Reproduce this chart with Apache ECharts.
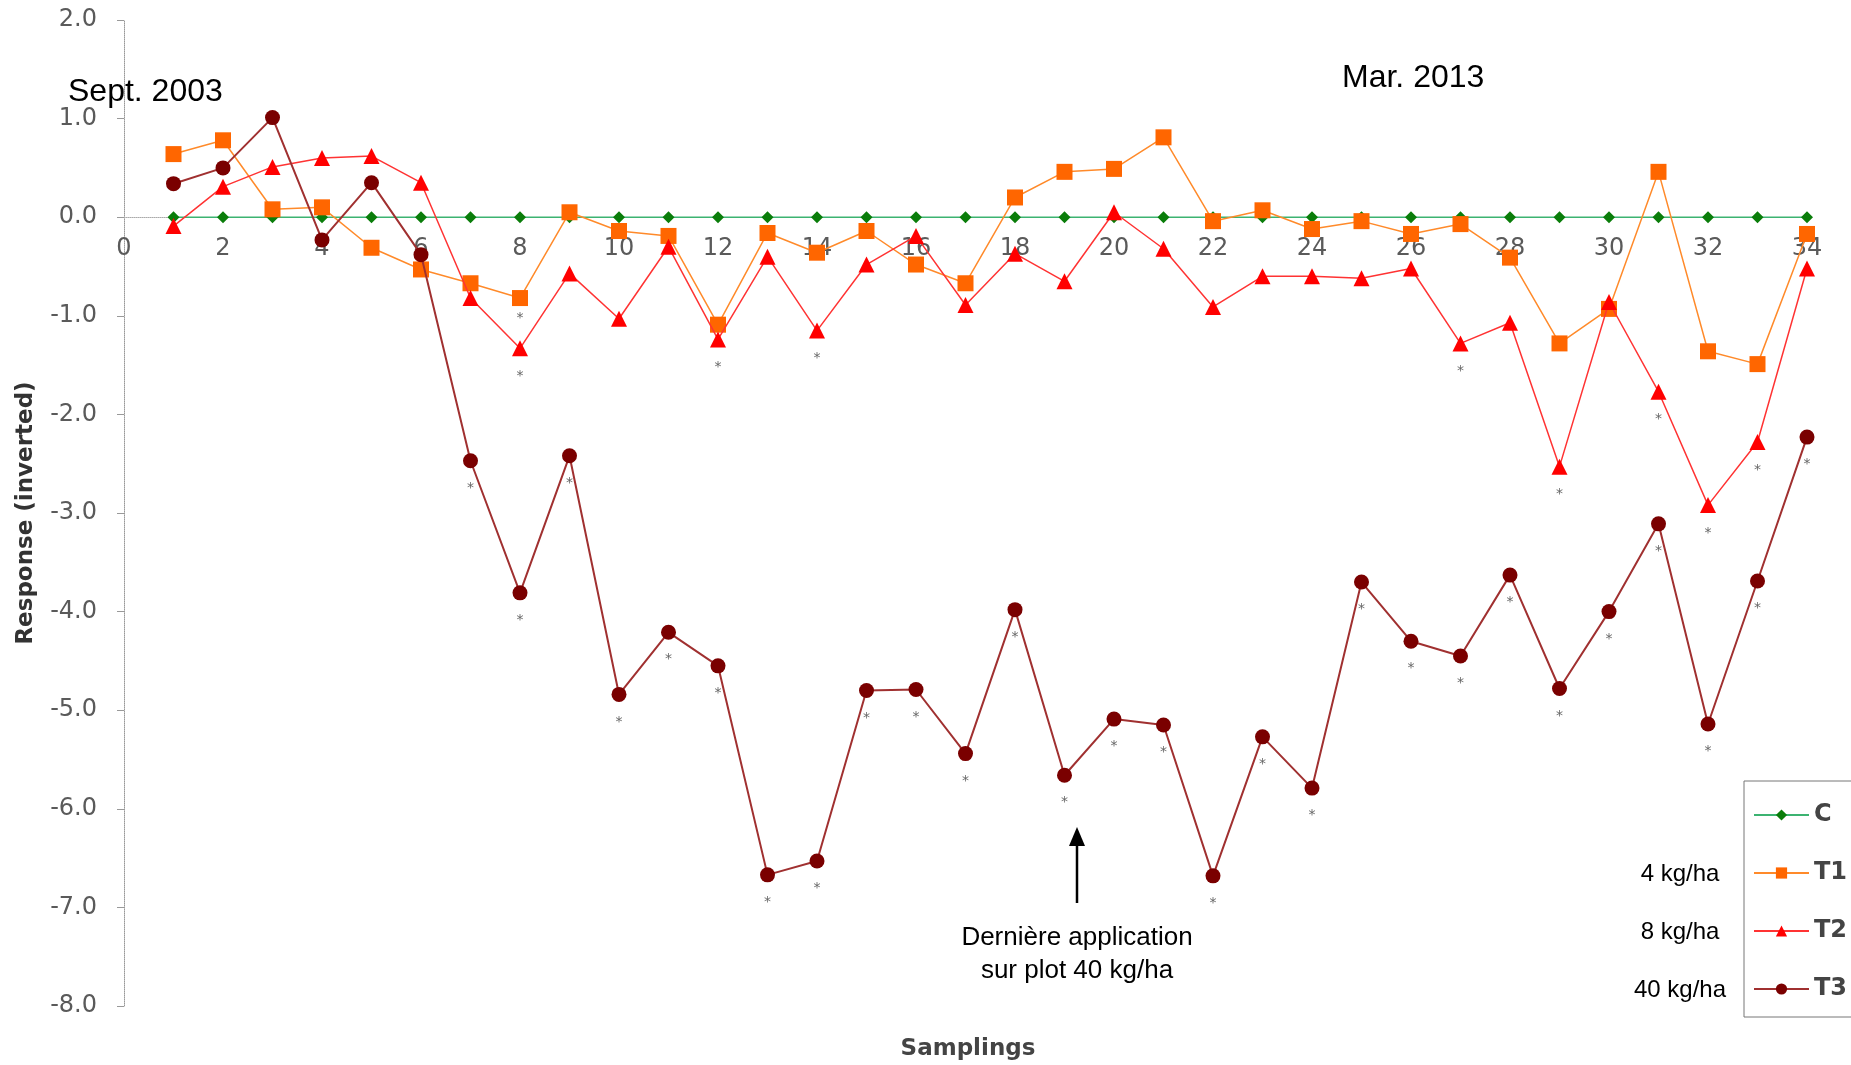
<!DOCTYPE html>
<html>
<head>
<meta charset="utf-8">
<style>
  html, body { margin: 0; padding: 0; background: #fff; }
  #chart { width: 1851px; height: 1065px; }
</style>
<script src="https://cdn.jsdelivr.net/npm/echarts@6/dist/echarts.min.js"></script>
</head>
<body>
<div id="chart"></div>
<script>
// ---- data ----
const samplings = [1,2,3,4,5,6,7,8,9,10,11,12,13,14,15,16,17,18,19,20,21,22,23,24,25,26,27,28,29,30,31,32,33,34];
const valuesC  = [0,0,0,0,0,0,0,0,0,0,0,0,0,0,0,0,0,0,0,0,0,0,0,0,0,0,0,0,0,0,0,0,0,0];
const valuesT1 = [0.64,0.78,0.08,0.10,-0.31,-0.53,-0.67,-0.82,0.05,-0.14,-0.19,-1.09,-0.16,-0.36,-0.14,-0.48,-0.67,0.20,0.46,0.49,0.81,-0.04,0.07,-0.12,-0.04,-0.17,-0.07,-0.41,-1.28,-0.93,0.46,-1.36,-1.49,-0.17];
const valuesT2 = [-0.09,0.31,0.51,0.60,0.62,0.35,-0.82,-1.33,-0.57,-1.03,-0.30,-1.24,-0.40,-1.15,-0.48,-0.19,-0.89,-0.37,-0.65,0.05,-0.32,-0.91,-0.60,-0.60,-0.62,-0.52,-1.28,-1.07,-2.53,-0.86,-1.77,-2.92,-2.28,-0.52];
const valuesT3 = [0.34,0.50,1.01,-0.23,0.35,-0.38,-2.47,-3.81,-2.42,-4.84,-4.21,-4.55,-6.67,-6.53,-4.80,-4.79,-5.44,-3.98,-5.66,-5.09,-5.15,-6.68,-5.27,-5.79,-3.70,-4.30,-4.45,-3.63,-4.78,-4.00,-3.11,-5.14,-3.69,-2.23];
// samplings marked significant (*)
const sigT1 = [8,12];
const sigT2 = [8,12,14,27,29,31,32,33];
const sigT3 = [7,8,9,10,11,12,13,14,15,16,17,18,19,20,21,22,23,24,25,26,27,28,29,30,31,32,33,34];
const seriesNames = ['C','T1','T2','T3'];
const doseLabels = ['4 kg/ha','8 kg/ha','40 kg/ha'];
const yTicks = { min: -8, max: 2, interval: 1 };
const xTicks = { min: 0, max: 34, interval: 2 };

// ---- layout ----
const GRID = { left: 124, right: 44, top: 20, bottom: 59 };
const plotH = 1065 - GRID.top - GRID.bottom;
// x axis sits on the y = 0 line (offset from the bottom edge of the grid)
const xAxisOffset = -plotH * (0 - yTicks.min) / (yTicks.max - yTicks.min);

// ---- chart ----
const chart = echarts.init(document.getElementById('chart'), null, { renderer: 'canvas' });

function build(vals, sig) {
  return samplings.map((x, i) => ({
    value: [x, vals[i]],
    label: { show: sig.indexOf(x) >= 0 }
  }));
}
const starLabel = (dist) => ({
  show: false, position: 'bottom', distance: dist, formatter: '*',
  color: '#666', fontSize: 14, fontFamily: 'DejaVu Sans'
});

const tickFont = { fontFamily: 'DejaVu Sans', fontSize: 24, color: '#5a5a5a' };

chart.setOption({
  animation: false,
  backgroundColor: '#ffffff',
  grid: Object.assign({ containLabel: false }, GRID),
  xAxis: {
    type: 'value', min: xTicks.min, max: xTicks.max, interval: xTicks.interval,
    position: 'bottom', offset: xAxisOffset,
    axisLine: { show: true, onZero: false, lineStyle: { color: '#aaaaaa', type: 'dotted', width: 1 } },
    axisTick: { show: false },
    axisLabel: Object.assign({ margin: 20, formatter: v => String(v) }, tickFont),
    splitLine: { show: false }
  },
  yAxis: {
    type: 'value', min: yTicks.min, max: yTicks.max, interval: yTicks.interval,
    name: 'Response (inverted)', nameLocation: 'middle', nameGap: 86,
    nameTextStyle: { fontFamily: 'DejaVu Sans', fontWeight: 'bold', fontSize: 23, color: '#333' },
    axisLine: { show: true, onZero: false, lineStyle: { color: '#999999', type: 'dotted', width: 1 } },
    axisTick: { show: true, length: 7, lineStyle: { color: '#999999' } },
    axisLabel: Object.assign({ margin: 27, formatter: v => v.toFixed(1) }, tickFont),
    splitLine: { show: false }
  },
  legend: {
    orient: 'vertical', left: 1744, top: 781,
    padding: [20, 5, 14, 9],
    borderColor: '#777', borderWidth: 1,
    itemWidth: 55, itemHeight: 14, itemGap: 30,
    data: seriesNames,
    textStyle: { fontFamily: 'DejaVu Sans', fontWeight: 'bold', fontSize: 24, color: '#444', lineHeight: 28 }
  },
  series: [
    {
      name: seriesNames[0], type: 'line', data: build(valuesC, []),
      symbol: 'diamond', symbolSize: 12, z: 2,
      itemStyle: { color: '#0a7d0a' },
      lineStyle: { color: '#3cb371', width: 1.5 },
      label: starLabel(14)
    },
    {
      name: seriesNames[1], type: 'line', data: build(valuesT1, sigT1),
      symbol: 'rect', symbolSize: 16, z: 3,
      itemStyle: { color: '#ff6600' },
      lineStyle: { color: '#ff8a2a', width: 1.5 },
      label: starLabel(5)
    },
    {
      name: seriesNames[2], type: 'line', data: build(valuesT2, sigT2),
      symbol: 'triangle', symbolSize: 16, z: 4,
      itemStyle: { color: '#ff0000' },
      lineStyle: { color: '#ff3333', width: 1.5 },
      label: starLabel(13)
    },
    {
      name: seriesNames[3], type: 'line', data: build(valuesT3, sigT3),
      symbol: 'circle', symbolSize: 15, z: 5,
      itemStyle: { color: '#7a0000' },
      lineStyle: { color: '#a03030', width: 2 },
      label: starLabel(13)
    }
  ],
  graphic: [
    { type: 'text', left: 68, top: 76,
      style: { text: 'Sept. 2003', font: '32px "Liberation Sans", Arial, sans-serif', fill: '#000' } },
    { type: 'text', left: 1342, top: 62,
      style: { text: 'Mar. 2013', font: '32px "Liberation Sans", Arial, sans-serif', fill: '#000' } },
    { type: 'line', shape: { x1: 1077, y1: 903, x2: 1077, y2: 840 },
      style: { stroke: '#000', lineWidth: 2.5 } },
    { type: 'polygon', shape: { points: [[1077, 827], [1069, 846], [1085, 846]] },
      style: { fill: '#000' } },
    { type: 'text', x: 1077, y: 938,
      style: { text: 'Dernière application', font: '26px "Liberation Sans", Arial, sans-serif', fill: '#000', align: 'center', verticalAlign: 'middle' } },
    { type: 'text', x: 1077, y: 971,
      style: { text: 'sur plot 40 kg/ha', font: '26px "Liberation Sans", Arial, sans-serif', fill: '#000', align: 'center', verticalAlign: 'middle' } },
    { type: 'text', x: 968, y: 1049,
      style: { text: 'Samplings', font: 'bold 23px "DejaVu Sans", sans-serif', fill: '#444', align: 'center', verticalAlign: 'middle' } },
    { type: 'text', x: 1680, y: 874,
      style: { text: doseLabels[0], font: '24px "Liberation Sans", Arial, sans-serif', fill: '#000', align: 'center', verticalAlign: 'middle' } },
    { type: 'text', x: 1680, y: 932,
      style: { text: doseLabels[1], font: '24px "Liberation Sans", Arial, sans-serif', fill: '#000', align: 'center', verticalAlign: 'middle' } },
    { type: 'text', x: 1680, y: 990,
      style: { text: doseLabels[2], font: '24px "Liberation Sans", Arial, sans-serif', fill: '#000', align: 'center', verticalAlign: 'middle' } }
  ]
});
</script>
</body>
</html>
